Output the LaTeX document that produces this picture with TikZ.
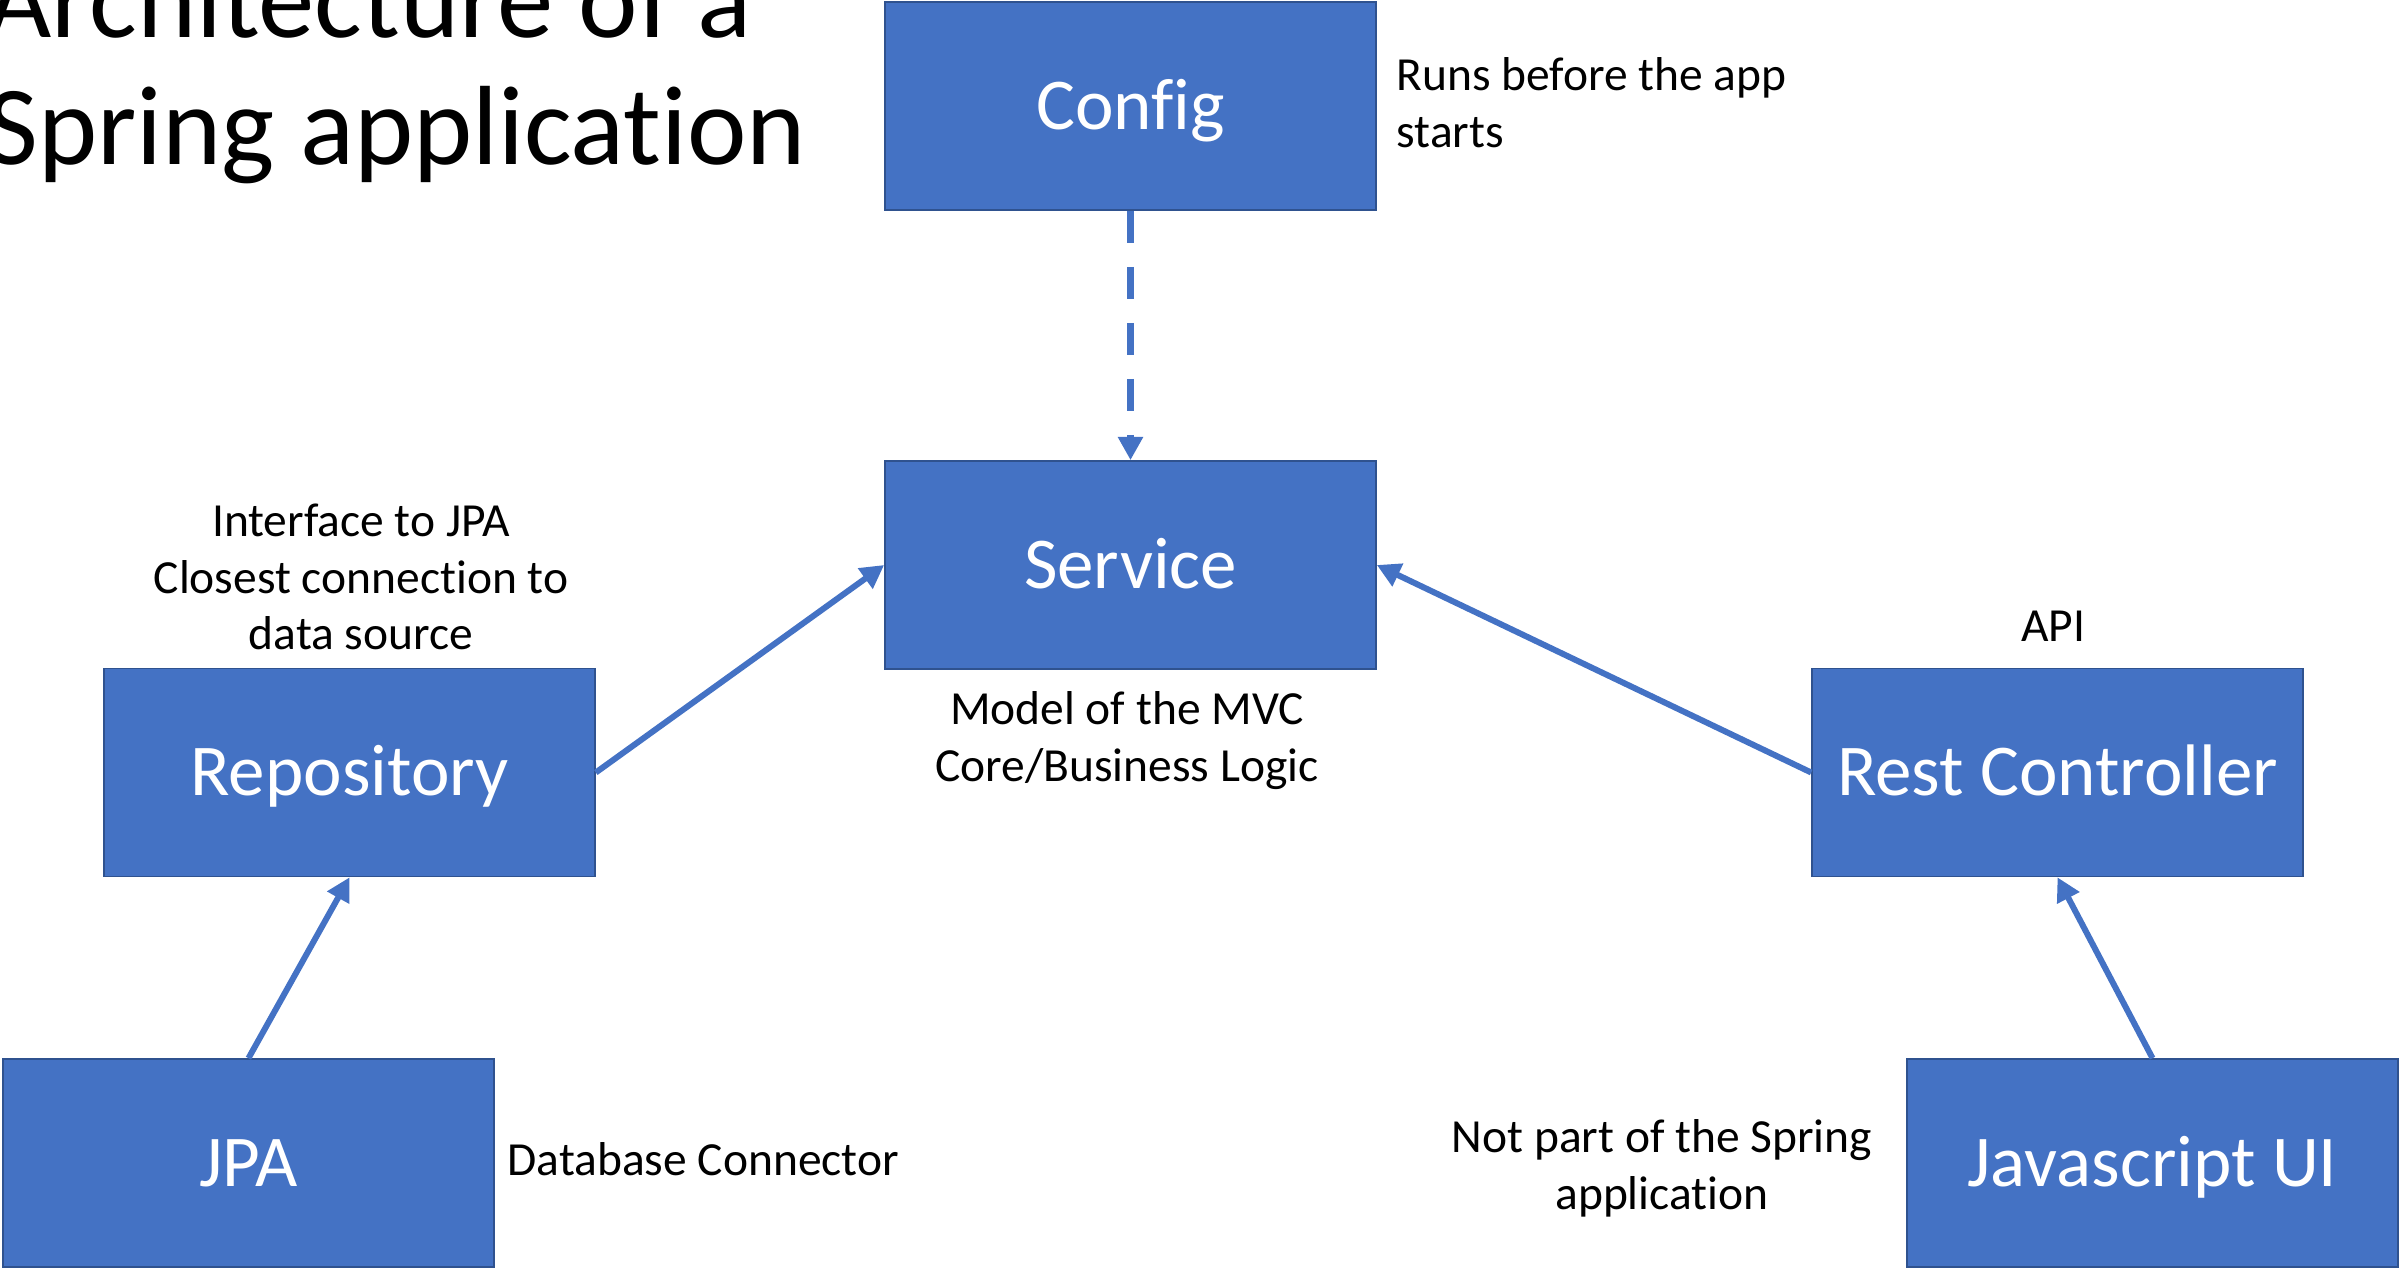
\documentclass[tikz,border=0pt]{standalone}
\usepackage{fontspec}
\setmainfont{Carlito}[RawFeature={-liga}]
\usetikzlibrary{arrows.meta}
\definecolor{boxblue}{HTML}{4472C4}
\definecolor{boxedge}{HTML}{2F528F}
\begin{document}
\begin{tikzpicture}[x=0.3pt,y=-0.3pt,
  block/.style={draw=boxedge, line width=0.5pt, fill=boxblue, minimum width=147.3pt, minimum height=62.4pt,
    inner sep=0pt, text=white, font=\fontsize{21.9}{26}\selectfont, text height=13.9pt, text depth=0pt},
  note/.style={inner sep=0pt, font=\fontsize{14.25}{17.1}\selectfont},
  link/.style={draw=boxblue, line width=1.8pt, -{Triangle[length=7pt,width=7.2pt]}},
  dlink/.style={link, line width=2.1pt, dash pattern=on 9.6pt off 7.2pt}
]
\useasboundingbox (0,0) rectangle (2400,1269);
% title
\node[inner sep=0pt, anchor=base west, align=left, font=\fontsize{33.8}{38.1}\selectfont] (title) at (-14,165)
  {Architecture of a\\Spring application};
% boxes
\node[block] (config) at (1130.5,106) {Config};
\node[block] (service) at (1130.5,565) {Service};
\node[block] (repo) at (349.5,772.5) {Repository};
\node[block] (rest) at (2057.5,772.5) {Rest Controller};
\node[block] (jpa) at (248.5,1163) {JPA};
\node[block] (js) at (2152.5,1163) {Javascript UI};
% notes
\node[note, anchor=base west, align=left] (nconfig) at (1396,148) {Runs before the app\\starts};
\node[note, anchor=base, align=center] (nrepo) at (361,650) {Interface to JPA\\Closest connection to\\data source};
\node[note, anchor=base, align=center] (nservice) at (1127,781) {Model of the MVC\\Core/Business Logic};
\node[note, anchor=base] (nrest) at (2053,642) {API};
\node[note, anchor=base west] (njpa) at (507,1175) {Database Connector};
\node[note, anchor=base, align=center] (njs) at (1662,1209) {Not part of the Spring\\application};
% connectors
\draw[dlink] (config.south) -- (service.north);
\draw[link] (repo.east) -- (service.west);
\draw[link] (rest.west) -- (service.east);
\draw[link] (jpa.north) -- (repo.south);
\draw[link] (js.north) -- (rest.south);
\end{tikzpicture}
\end{document}
